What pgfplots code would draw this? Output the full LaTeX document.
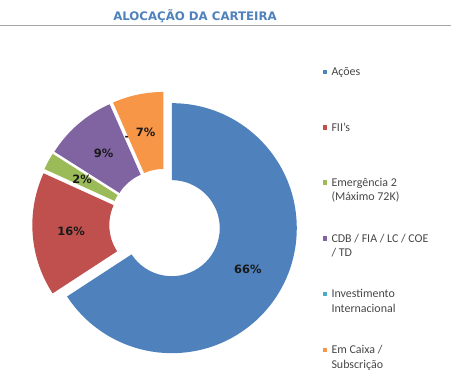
\documentclass[border=0pt]{standalone}
\usepackage{pgfplots}
\pgfplotsset{compat=1.18}
\usepackage{pgfplotstable}
\usepackage{fontspec}
\setmainfont{Carlito}
\newfontfamily\labfont{DejaVu Sans}
\definecolor{cA}{HTML}{4F81BD}
\definecolor{cB}{HTML}{C0504D}
\definecolor{cC}{HTML}{9BBB59}
\definecolor{cD}{HTML}{8064A2}
\definecolor{cE}{HTML}{4BACC6}
\definecolor{cF}{HTML}{F79646}
\definecolor{titleblue}{HTML}{4F81BD}

\pgfplotstableread{
value color
65.8 cA
16.0 cB
2.2 cC
9.4 cD
0 cE
6.6 cF
}\piedata

\tikzset{pielabel/.style={font=\labfont\bfseries\fontsize{11.5}{12}\selectfont, text=black!90, inner sep=0pt},
legtext/.style={font=\fontsize{12}{14}\selectfont, text=black!72, anchor=base west, inner sep=0pt}}

\def\CX{165}\def\CY{166.5}\def\RO{125}\def\RI{48}\def\EXP{7.7}

\newcommand{\legentry}[3]{% y of marker centre (axis units), colour, first line
  \fill[#2] (axis cs:323,#1-2.2) rectangle (axis cs:327.4,#1+2.2);
  \node[legtext] at (axis cs:331.3,#1-3.9) {#3};}
\newcommand{\legline}[2]{\node[legtext] at (axis cs:331.3,#1-3.9) {#2};}

\begin{document}
\begin{tikzpicture}
\begin{axis}[hide axis, scale only axis, width=451bp, height=391bp,
  xmin=0, xmax=451, ymin=0, ymax=391, clip=false]
\def\cum{0}
\pgfplotsforeachungrouped \i in {0,...,5}{%
  \pgfplotstablegetelem{\i}{value}\of\piedata \let\v=\pgfplotsretval
  \pgfplotstablegetelem{\i}{color}\of\piedata \let\c=\pgfplotsretval
  \pgfmathsetmacro\aA{90-3.6*\cum}%
  \pgfmathsetmacro\aB{90-3.6*(\cum+\v)}%
  \pgfmathsetmacro\am{(\aA+\aB)/2}%
  \pgfmathsetmacro\ox{\CX+\EXP*cos(\am)}%
  \pgfmathsetmacro\oy{\CY+\EXP*sin(\am)}%
  \pgfmathsetmacro\px{\ox+\RO*cos(\aA)}%
  \pgfmathsetmacro\py{\oy+\RO*sin(\aA)}%
  \pgfmathsetmacro\qx{\ox+\RI*cos(\aB)}%
  \pgfmathsetmacro\qy{\oy+\RI*sin(\aB)}%
  \pgfmathsetmacro\lx{\ox+0.5*(\RO+\RI)*cos(\am)}%
  \pgfmathsetmacro\ly{\oy+0.5*(\RO+\RI)*sin(\am)}%
  \pgfmathtruncatemacro\pct{round(\v)}%
  \pgfmathsetmacro\cumnew{\cum+\v}%
  \let\cum\cumnew
  \ifdim\v pt>0pt
    \edef\temp{\noexpand\fill[\c] (axis cs:\px,\py) arc[start angle=\aA, end angle=\aB, radius=\RO bp] -- (axis cs:\qx,\qy) arc[start angle=\aB, end angle=\aA, radius=\RI bp] -- cycle;
      \noexpand\node[pielabel] at (axis cs:\lx,\ly) {\pct\noexpand\%};}%
    \temp
  \else
    \edef\temp{\noexpand\node[pielabel] at (axis cs:\lx,\ly) {-};}%
    \temp
  \fi
}
% title and rule
\node[font=\labfont\bfseries\fontsize{11.8}{13}\selectfont, text=titleblue, inner sep=0pt] at (axis cs:195,374.5) {ALOCAÇÃO DA CARTEIRA};
\draw[black!35, line width=1.2bp] (axis cs:0,365.3) -- (axis cs:451,365.3);
% legend
\legentry{319}{cA}{Ações}
\legentry{263.5}{cB}{FII's}
\legentry{208.5}{cC}{Emergência 2}
\legline{194.5}{(Máximo 72K)}
\legentry{152.5}{cD}{CDB / FIA / LC / COE}
\legline{138.5}{/ TD}
\legentry{97}{cE}{Investimento}
\legline{82.5}{Internacional}
\legentry{41}{cF}{Em Caixa /}
\legline{26.5}{Subscrição}
\end{axis}
\pgfresetboundingbox
\path (current axis.south west) rectangle (current axis.north east);
\end{tikzpicture}
\end{document}
